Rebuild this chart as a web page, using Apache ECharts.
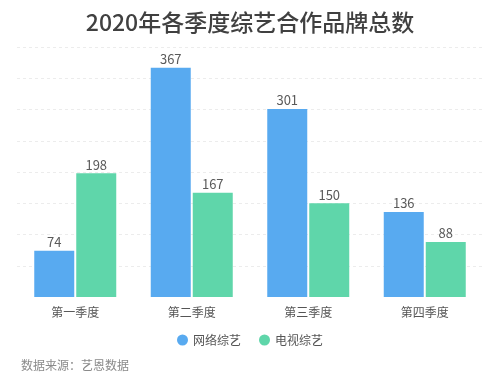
<!DOCTYPE html>
<html>
<head>
<meta charset="utf-8">
<script src="https://cdn.jsdelivr.net/npm/echarts@6/dist/echarts.min.js"></script>
<style>
html,body{margin:0;padding:0;background:#fff;}
#chart{width:500px;height:386px;}
</style>
</head>
<body>
<div id="chart"></div>
<script>
const titleText = '2020年各季度综艺合作品牌总数';
const sourceText = '数据来源：艺恩数据';
const categories = ['第一季度', '第二季度', '第三季度', '第四季度'];
const seriesNames = ['网络综艺', '电视综艺'];
const onlineValues = [74, 367, 301, 136];
const tvValues = [198, 167, 150, 88];
const yTicks = [0, 50, 100, 150, 200, 250, 300, 350, 400];

const FONT = '"Noto Sans CJK SC", "Noto Sans", sans-serif';
const chart = echarts.init(document.getElementById('chart'), null, {renderer: 'canvas'});
chart.setOption({
  backgroundColor: '#ffffff',
  animation: false,
  title: [
    {
      text: titleText, left: 'center', top: 6,
      textStyle: {fontFamily: FONT, fontSize: 23, fontWeight: 500, color: '#404040'}
    },
    {
      text: sourceText, left: 16, top: 354,
      textStyle: {fontFamily: FONT, fontSize: 12, fontWeight: 'normal', color: '#8a8a8a'}
    }
  ],
  legend: {
    data: seriesNames, left: 'center', top: 329,
    icon: 'circle', itemWidth: 11, itemHeight: 11, itemGap: 18,
    textStyle: {fontFamily: FONT, fontSize: 12, color: '#555'}
  },
  grid: {left: 17, right: 17, top: 47, bottom: 89, containLabel: false},
  xAxis: {
    type: 'category', data: categories,
    axisLine: {show: false}, axisTick: {show: false},
    axisLabel: {fontFamily: FONT, fontSize: 12, color: '#555', margin: 9}
  },
  yAxis: {
    type: 'value', min: yTicks[0], max: yTicks[yTicks.length - 1], interval: 50,
    axisLabel: {show: false}, axisLine: {show: false}, axisTick: {show: false},
    splitLine: {show: true, showMinLine: false, lineStyle: {color: '#ececec', type: [3, 3], width: 1}}
  },
  series: [
    {
      name: seriesNames[0], type: 'bar', data: onlineValues, barWidth: 40, barGap: '5%',
      itemStyle: {color: '#58aaf0'},
      label: {show: true, position: 'top', distance: 2, fontFamily: FONT, fontSize: 13, color: '#5a5a5a'}
    },
    {
      name: seriesNames[1], type: 'bar', data: tvValues, barWidth: 40, barGap: '5%',
      itemStyle: {color: '#5fd6aa'},
      label: {show: true, position: 'top', distance: 2, fontFamily: FONT, fontSize: 13, color: '#5a5a5a'}
    }
  ]
});
</script>
</body>
</html>
